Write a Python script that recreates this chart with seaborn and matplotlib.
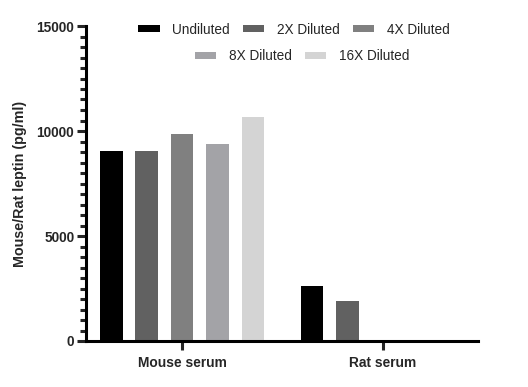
import matplotlib
matplotlib.use("Agg")
import matplotlib.pyplot as plt
import seaborn as sns
import pandas as pd
from matplotlib.patches import Patch
from matplotlib.ticker import MultipleLocator

groups = ["Mouse serum", "Rat serum"]
dilutions = ["Undiluted", "2X Diluted", "4X Diluted", "8X Diluted", "16X Diluted"]
mouse_values = [9050, 9050, 9860, 9380, 10670]
rat_values = [2620, 1900, 0, 0, 0]
colors = ["#000000", "#616161", "#808080", "#a3a3a7", "#d4d4d4"]

rows = []
for g, vals in zip(groups, [mouse_values, rat_values]):
    for d, v in zip(dilutions, vals):
        rows.append({"group": g, "dilution": d, "value": v})
df = pd.DataFrame(rows)

sns.set_style("ticks")
plt.rcParams["font.family"] = ["Liberation Sans", "DejaVu Sans"]

fig = plt.figure(figsize=(5.28, 3.87), dpi=100)
ax = fig.add_axes([86/528, 1-341/387, (478-86)/528, (341-26)/387])

sns.barplot(data=df, x="group", y="value", hue="dilution", hue_order=dilutions,
            palette=colors, width=0.883, gap=0.355, saturation=1, linewidth=0,
            legend=False, ax=ax, errorbar=None)

ax.set_xlim(-0.478, 1.473)
ax.set_ylim(0, 15000)
ax.yaxis.set_major_locator(MultipleLocator(5000))
ax.yaxis.set_minor_locator(MultipleLocator(500))
for s in ["top", "right"]:
    ax.spines[s].set_visible(False)
for s in ["left", "bottom"]:
    ax.spines[s].set_linewidth(2.2)
    ax.spines[s].set_color("black")
ax.tick_params(axis="y", which="major", length=6.5, width=2.2, pad=2, labelsize=9.8)
ax.tick_params(axis="y", which="minor", length=4.2, width=2.2)
ax.tick_params(axis="x", which="major", length=6.5, width=2.2, pad=4, labelsize=9.9)
for lab in ax.get_yticklabels() + ax.get_xticklabels():
    lab.set_fontweight("bold")
ax.set_xlabel("")
ax.set_ylabel("Mouse/Rat leptin (pg/ml)", fontsize=10.3, fontweight="bold", labelpad=7)

handles = [Patch(facecolor=c, edgecolor="none", label=d) for c, d in zip(colors, dilutions)]
kw = dict(frameon=False, fontsize=9.8, handlelength=1.55, handleheight=0.45,
          handletextpad=0.95, columnspacing=0.95, loc="center",
          bbox_transform=fig.transFigure, borderaxespad=0, borderpad=0)
leg1 = ax.legend(handles=handles[:3], ncol=3, bbox_to_anchor=(294/528, 1-29.5/387), **kw)
ax.add_artist(leg1)
ax.legend(handles=handles[3:], ncol=2, bbox_to_anchor=(302/528, 1-56.5/387), **kw)

fig.savefig("out.png", dpi=100)
